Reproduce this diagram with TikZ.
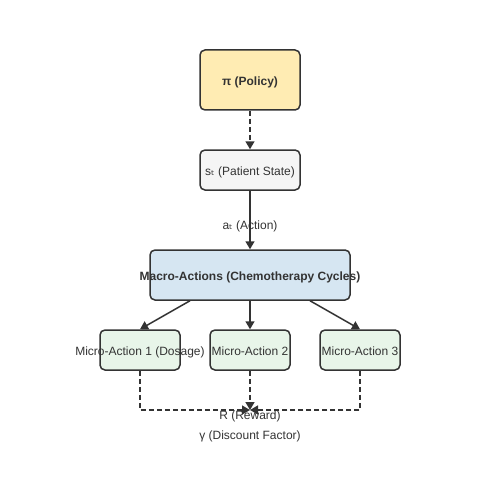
\documentclass[tikz,border=0pt]{standalone}
\usepackage{fontspec}
\setmainfont{Liberation Sans}
\newfontfamily\subfont{DejaVu Sans}
\usepackage{tikz}
\usetikzlibrary{arrows.meta}
\definecolor{inkgray}{HTML}{333333}
\definecolor{policyfill}{HTML}{FFECB3}
\definecolor{statefill}{HTML}{F5F5F5}
\definecolor{macrofill}{HTML}{D6E6F2}
\definecolor{microfill}{HTML}{E8F5E9}

\begin{document}
\begin{tikzpicture}[x=1pt,y=-1pt,
  font=\fontsize{12}{14}\selectfont, text=inkgray,
  box/.style={draw=inkgray, line width=1.5pt, rounded corners=5pt, inner sep=0pt, text height=11.5pt, text depth=0pt},
  link/.style={draw=inkgray, line width=1.5pt, -{Triangle[length=8pt,width=9pt]}},
  dashlink/.style={link, dash pattern=on 5pt off 3pt}]
\useasboundingbox (0,0) rectangle (500,500);
% top part
\node[box, fill=policyfill, minimum width=100pt, minimum height=60pt] (policy) at (250,80) {\textbf{π (Policy)}};
\node[box, fill=statefill, minimum width=100pt, minimum height=40pt] (state) at (250,170) {s{\subfont ₜ} (Patient State)};
\node[box, fill=macrofill, minimum width=200pt, minimum height=50pt] (macro) at (250,275) {\makebox[0pt]{\textbf{Macro-Actions (Chemotherapy Cycles)}}};
\draw[dashlink] (policy) -- (state);
\draw[link] (state) -- (macro);
\node (action) at (250,226.5) {a{\subfont ₜ} (Action)};
% micro actions
\node[box, fill=microfill, minimum width=80pt, minimum height=40pt] (micro1) at (140,350) {\makebox[0pt]{Micro-Action 1 (Dosage)}};
\node[box, fill=microfill, minimum width=80pt, minimum height=40pt] (micro2) at (250,350) {\makebox[0pt]{Micro-Action 2}};
\node[box, fill=microfill, minimum width=80pt, minimum height=40pt] (micro3) at (360,350) {\makebox[0pt]{Micro-Action 3}};
\draw[link] ([xshift=-60pt]macro.south) -- (micro1.north);
\draw[link] (macro.south) -- (micro2.north);
\draw[link] ([xshift=60pt]macro.south) -- (micro3.north);
% reward
\coordinate (reward) at (250,410);
\draw[dashlink] (micro1.south) |- (reward);
\draw[dashlink] (micro2.south) -- (reward);
\draw[dashlink] (micro3.south) |- (reward);
\node (rlabel) at (250,416.5) {R (Reward)};
\node (gamma) at (250,436.5) {γ (Discount Factor)};
\end{tikzpicture}
\end{document}
